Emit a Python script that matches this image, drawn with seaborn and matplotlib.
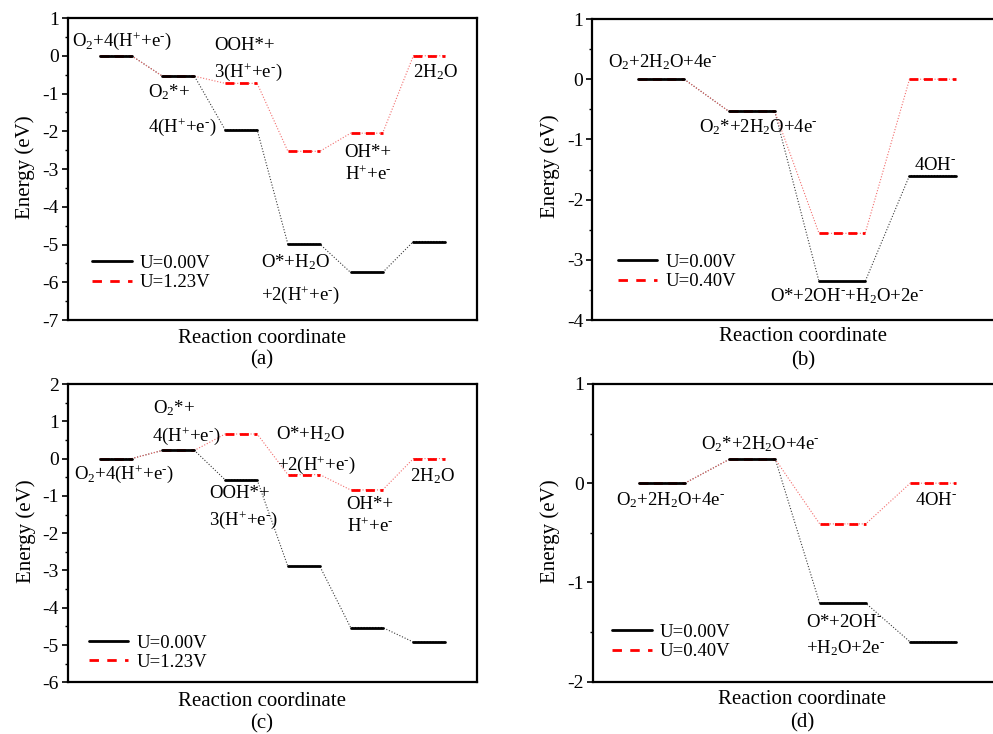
import numpy as np
import pandas as pd
import matplotlib
matplotlib.use("Agg")
import matplotlib.pyplot as plt
from matplotlib.lines import Line2D
from matplotlib.ticker import MultipleLocator
import seaborn as sns

# Free energy (eV) of each reaction intermediate, U = 0 and at the applied potential
energy_a_u0 = [0.00, -0.54, -1.96, -4.99, -5.74, -4.92]
energy_a_u1 = [0.00, -0.54, -0.73, -2.53, -2.05, 0.00]
energy_b_u0 = [0.00, -0.53, -3.36, -1.60]
energy_b_u1 = [0.00, -0.53, -2.56, 0.00]
energy_c_u0 = [0.00, 0.22, -0.57, -2.89, -4.53, -4.92]
energy_c_u1 = [0.00, 0.22, 0.66, -0.43, -0.84, 0.00]
energy_d_u0 = [0.00, 0.24, -1.21, -1.60]
energy_d_u1 = [0.00, 0.24, -0.41, 0.00]

legend_acid = ["U=0.00V", "U=1.23V"]
legend_alkaline = ["U=0.00V", "U=0.40V"]
panel_tags = ["(a)", "(b)", "(c)", "(d)"]
y_limits = [(-7, 1), (-4, 1), (-6, 2), (-2, 1)]

# superscript charges written with a short hyphen
P = r"$^{+}$"
M = r"$^{\text{-}}$"
S2 = r"$_{2}$"

# Intermediate names written next to the levels: (text, x, baseline y)
names_a = [
    (f"O{S2}+4(H{P}+e{M})", 0.30, 0.26),
    ("OOH*+", 2.57, 0.16),
    (f"3(H{P}+e{M})", 2.57, -0.56),
    (f"O{S2}*+", 1.52, -1.09),
    (f"4(H{P}+e{M})", 1.52, -2.02),
    (f"2H{S2}O", 5.74, -0.56),
    ("OH*+", 4.65, -2.68),
    (f"H{P}+e{M}", 4.65, -3.29),
    (f"O*+H{S2}O", 3.31, -5.60),
    (f"+2(H{P}+e{M})", 3.31, -6.47),
]
names_b = [
    (f"O{S2}+2H{S2}O+4e{M}", 0.41, 0.19),
    (f"O{S2}*+2H{S2}O+4e{M}", 1.42, -0.88),
    (f"4OH{M}", 3.80, -1.50),
    (f"O*+2OH{M}+H{S2}O+2e{M}", 2.20, -3.69),
]
names_c = [
    (f"O{S2}*+", 1.59, 1.22),
    (f"4(H{P}+e{M})", 1.58, 0.48),
    (f"O{S2}+4(H{P}+e{M})", 0.34, -0.54),
    ("OOH*+", 2.49, -1.06),
    (f"3(H{P}+e{M})", 2.49, -1.78),
    (f"O*+H{S2}O", 3.56, 0.53),
    (f"+2(H{P}+e{M})", 3.57, -0.30),
    (f"2H{S2}O", 5.69, -0.60),
    ("OH*+", 4.68, -1.36),
    (f"H{P}+e{M}", 4.68, -1.98),
]
names_d = [
    (f"O{S2}*+2H{S2}O+4e{M}", 1.43, 0.34),
    (f"O{S2}+2H{S2}O+4e{M}", 0.49, -0.22),
    (f"4OH{M}", 3.80, -0.22),
    (f"O*+2OH{M}", 2.59, -1.445),
    (f"+H{S2}O+2e{M}", 2.59, -1.71),
]

sns.set_theme(style="ticks")
plt.rcParams.update({
    "font.family": ["Liberation Serif", "DejaVu Serif"],
    "mathtext.fontset": "custom",
    "mathtext.rm": "Liberation Serif",
    "mathtext.it": "Liberation Serif:italic",
    "mathtext.bf": "Liberation Serif:bold",
    "axes.unicode_minus": False,
    "axes.linewidth": 1.5,
    "axes.edgecolor": "black",
    "text.color": "black",
    "axes.labelcolor": "black",
    "xtick.color": "black",
    "ytick.color": "black",
})

HALF = 0.255          # half width of an energy level
RED = "#ff0000"
LEVEL_LW = 2.0
LEVEL_DASH = (0, (3.2, 2))


def level_frames(values):
    steps = np.arange(1, len(values) + 1)
    seg = pd.DataFrame({
        "step": np.repeat(steps, 2),
        "x": np.ravel(np.column_stack([steps - HALF, steps + HALF])),
        "E": np.repeat(values, 2),
    })
    return seg


def draw_panel(ax, u0, u1, names, legend_labels, tag, ylim,
               label_pos, legend_anchor):
    seg0 = level_frames(u0)
    seg1 = level_frames(u1)
    # thin dotted connectors through the whole pathway
    sns.lineplot(data=seg0, x="x", y="E", estimator=None, sort=False,
                 color="#3a3a3a", lw=0.8, linestyle=(0, (1, 1.6)), ax=ax,
                 zorder=2)
    sns.lineplot(data=seg1, x="x", y="E", estimator=None, sort=False,
                 color="#f26d6d", lw=0.8, linestyle=(0, (1, 1.6)), ax=ax,
                 zorder=3)
    # energy levels
    sns.lineplot(data=seg1, x="x", y="E", units="step", estimator=None,
                 color=RED, lw=LEVEL_LW, linestyle=LEVEL_DASH, ax=ax,
                 zorder=4)
    sns.lineplot(data=seg0, x="x", y="E", units="step", estimator=None,
                 color="black", lw=LEVEL_LW, ax=ax, zorder=5)

    for text, x, y in names:
        ax.text(x, y, text, ha="left", va="baseline", fontsize=13.5,
                zorder=6)

    n = len(u0)
    ax.set_xlim(0.24, n + 0.76)
    ax.set_ylim(*ylim)
    ax.set_xticks([])
    ax.yaxis.set_major_locator(MultipleLocator(1))
    ax.yaxis.set_minor_locator(MultipleLocator(0.5))
    ax.tick_params(axis="y", which="major", direction="out", length=4.5,
                   width=1.2, labelsize=14, pad=2)
    ax.tick_params(axis="y", which="minor", direction="out", length=2.5,
                   width=1.0)
    for side in ["top", "right", "left", "bottom"]:
        ax.spines[side].set_visible(True)
        ax.spines[side].set_linewidth(1.6)

    ax.set_ylabel("Energy (eV)", fontsize=15)
    ax.set_xlabel("Reaction coordinate", fontsize=15)
    ax.yaxis.label.set_va("center")
    ax.yaxis.set_label_coords(label_pos[0], label_pos[1])
    ax.xaxis.label.set_va("center")
    ax.xaxis.set_label_coords(label_pos[2], label_pos[3])
    ax.text(label_pos[2], label_pos[4], tag, transform=ax.transAxes,
            ha="center", va="center", fontsize=15)

    handles = [
        Line2D([], [], color="black", lw=LEVEL_LW),
        Line2D([], [], color=RED, lw=LEVEL_LW, linestyle=(0, (3.4, 3.0))),
    ]
    ax.legend(handles, legend_labels, loc="center left",
              bbox_to_anchor=legend_anchor, frameon=False, fontsize=13.5,
              handlelength=2.1, handletextpad=0.45, labelspacing=0.12,
              borderpad=0, borderaxespad=0)


fig = plt.figure(figsize=(9.93, 7.34), dpi=100)
ax_a = fig.add_axes([0.0685, 0.5640, 0.4119, 0.4114])
ax_b = fig.add_axes([0.5965, 0.5640, 0.4119, 0.4101])
ax_c = fig.add_axes([0.0685, 0.0704, 0.4119, 0.4064])
ax_d = fig.add_axes([0.5972, 0.0713, 0.4119, 0.4056])

draw_panel(ax_a, energy_a_u0, energy_a_u1, names_a, legend_acid,
           panel_tags[0], y_limits[0],
           (-0.105, 0.507, 0.474, -0.060, -0.132), (0.059, 0.156))
draw_panel(ax_b, energy_b_u0, energy_b_u1, names_b, legend_alkaline,
           panel_tags[1], y_limits[1],
           (-0.104, 0.51, 0.516, -0.055, -0.136), (0.063, 0.160))
draw_panel(ax_c, energy_c_u0, energy_c_u1, names_c, legend_acid,
           panel_tags[2], y_limits[2],
           (-0.102, 0.505, 0.474, -0.065, -0.138), (0.051, 0.099))
draw_panel(ax_d, energy_d_u0, energy_d_u1, names_d, legend_alkaline,
           panel_tags[3], y_limits[3],
           (-0.106, 0.504, 0.512, -0.060, -0.140), (0.047, 0.133))

fig.savefig("out.png", dpi=100)
